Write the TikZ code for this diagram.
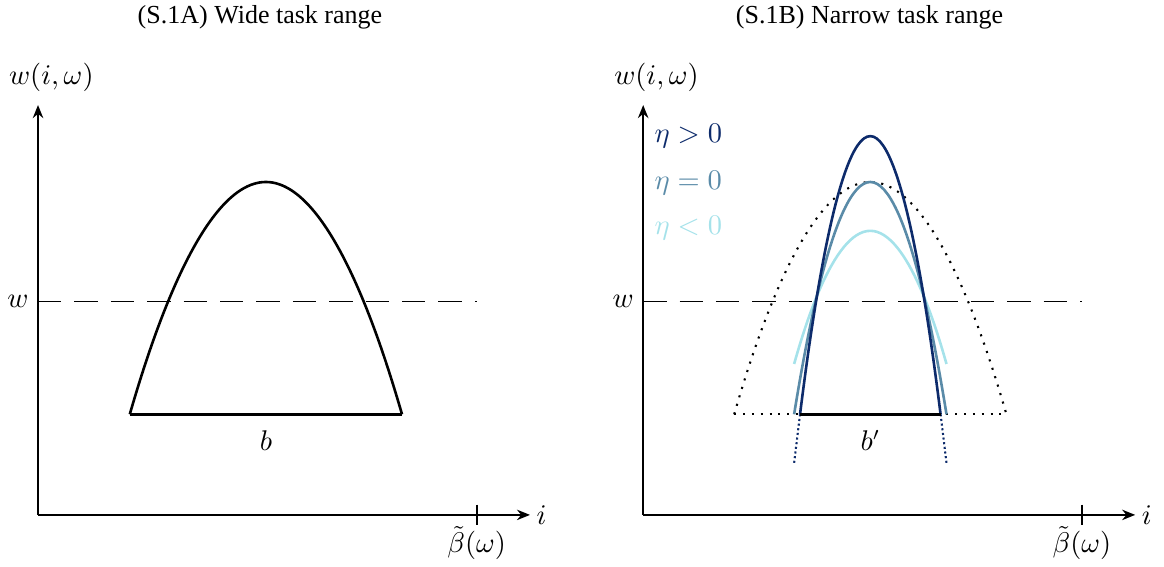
\documentclass[tikz,border=0pt]{standalone}
\usepackage[no-math]{fontspec}
\setmainfont{Liberation Serif}
\usepackage{amsmath, amssymb}
\usepackage{tikz}
\usepackage{xcolor}
\usetikzlibrary{arrows.meta}

\definecolor{etapos}{HTML}{0D2B6B}
\definecolor{etazero}{HTML}{5A8BA8}
\definecolor{etaneg}{HTML}{A5E2EA}

\tikzset{
  axis/.style={thick, -{Stealth[length=5pt, width=4pt]}},
  wageline/.style={dash pattern=on 9pt off 5pt},
  curve/.style={line width=1pt},
  dotcurve/.style={line width=0.8pt, dash pattern=on 0.8pt off 2.6pt},
  lab/.style={font=\fontsize{10.5}{12}\selectfont},
}

\begin{document}
\begin{tikzpicture}[scale=1.0]
    \useasboundingbox (-0.514,-0.703) rectangle (15.22,6.96);

    % ---------- (S.1A) Wide task range ----------
    \node (titleA) at (3.0,6.72) {(S.1A) Wide task range};

    % Axes
    \coordinate (oA) at (0,0);
    \coordinate (yA) at (0,5.54);
    \coordinate (xA) at (6.65,0);
    \draw[axis] (oA) -- (yA);
    \draw[axis] (oA) -- (xA);
    \node[lab] (ylabA) at (0.18,5.92) {$w(i,\omega)$};
    \node[lab, right=-1pt] (xlabA) at (xA) {$i$};

    % Upper bound of tasks
    \draw[thick] (5.93,0.14) -- (5.93,-0.14);
    \node[lab, inner sep=1pt] (betaA) at (5.93,-0.38) {$\tilde{\beta}(\omega)$};

    % Wage level
    \coordinate (wA) at (0,2.88);
    \coordinate (wendA) at (5.93,2.88);
    \draw[wageline] (wA) -- (wendA);
    \node[lab] (wlabA) at (-0.27,2.88) {$w$};

    % Productivity curve and its base
    \coordinate (lA) at (1.24,1.36);
    \coordinate (rA) at (4.92,1.36);
    \draw[curve] (lA) parabola bend (3.08,4.50) (rA);
    \draw[curve] (lA) -- (rA);
    \node[lab] (bA) at (3.08,1.01) {$b$};

    % ---------- (S.1B) Narrow task range ----------
    \begin{scope}[xshift=8.18cm]
    \node (titleB) at (3.06,6.72) {(S.1B) Narrow task range};

    % Axes
    \coordinate (oB) at (0,0);
    \coordinate (yB) at (0,5.54);
    \coordinate (xB) at (6.65,0);
    \draw[axis] (oB) -- (yB);
    \draw[axis] (oB) -- (xB);
    \node[lab] (ylabB) at (0.18,5.92) {$w(i,\omega)$};
    \node[lab, right=-1pt] (xlabB) at (xB) {$i$};

    % Upper bound of tasks
    \draw[thick] (5.93,0.14) -- (5.93,-0.14);
    \node[lab, inner sep=1pt] (betaB) at (5.93,-0.38) {$\tilde{\beta}(\omega)$};

    % Wage level
    \coordinate (wB) at (0,2.88);
    \coordinate (wendB) at (5.93,2.88);
    \draw[wageline] (wB) -- (wendB);
    \node[lab] (wlabB) at (-0.27,2.88) {$w$};

    % Old curve (dotted)
    \draw[dotcurve] (1.23,1.36) parabola bend (3.07,4.50) (4.91,1.36);
    \draw[dotcurve] (1.23,1.36) -- (4.91,1.36);

    % eta < 0
    \draw[curve, etaneg] (2.04,2.04) parabola bend (3.07,3.84) (4.10,2.04);
    % eta = 0
    \draw[curve, etazero] (2.04,1.36) parabola bend (3.07,4.50) (4.10,1.36);
    % eta > 0
    \coordinate (lB) at (2.12,1.36);
    \coordinate (rB) at (4.02,1.36);
    \draw[curve, etapos] (lB) parabola bend (3.07,5.12) (rB);
    \draw[etapos, densely dotted, line width=0.8pt] (lB) -- (2.04,0.70);
    \draw[etapos, densely dotted, line width=0.8pt] (rB) -- (4.10,0.70);

    % New base
    \draw[curve] (lB) -- (rB);
    \node[lab] (bB) at (3.07,1.01) {$b'$};

    % Legend
    \node[lab, etapos] (etaposlab) at (0.61,5.12) {$\eta>0$};
    \node[lab, etazero] (etazerolab) at (0.61,4.49) {$\eta=0$};
    \node[lab, etaneg] (etaneglab) at (0.61,3.88) {$\eta<0$};
    \end{scope}
\end{tikzpicture}
\end{document}
